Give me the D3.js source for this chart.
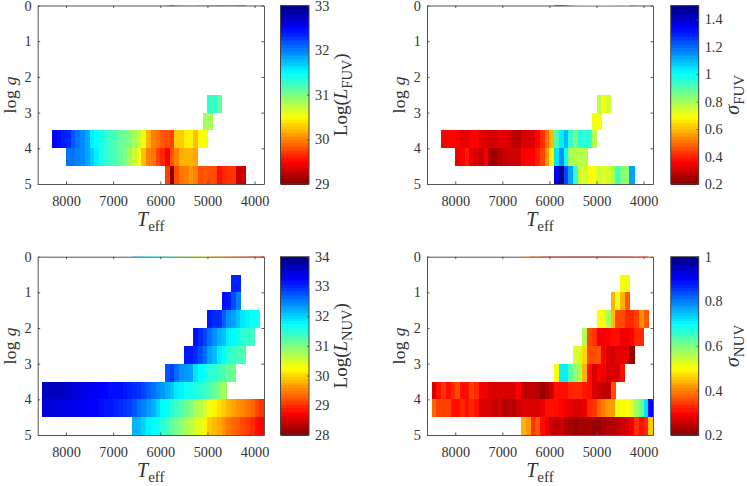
<!DOCTYPE html>
<html><head><meta charset="utf-8">
<script src="https://cdn.jsdelivr.net/npm/d3@7"></script>
<style>
html,body{margin:0;padding:0;background:#fff}
svg{display:block}
text{font-family:"Liberation Serif",serif;fill:#333}
.tick text{font-size:14.3px;fill:#333}
.domain,.tick line{stroke:#555}
</style></head><body><div id="chart"></div>
<script>
// cell width in K; every row lists values from its hot (left) start temperature
const tStep = 100;
const tDomain = [8600, 3800];
const xTickValues = [8000, 7000, 6000, 5000, 4000];
const yTickValues = [0, 1, 2, 3, 4, 5];

const fuvLogG = [2.5, 3, 3.5, 4, 4.5];
const fuvStart = [5000, 5100, 8300, 8000, 5900];
const lumFuv = [
 [31.3,31.3,31.1],
 [30.85,30.85],
 [32.5,32.45,32.4,32.35,32.15,32.05,31.95,31.85,31.55,31.5,31.4,31.35,31.25,31.2,31.1,31.05,31.0,30.85,30.7,30.55,30.2,30.0,29.95,29.85,29.8,29.75,30.3,30.3,30.45,30.45,30.25,30.5,30.55],
 [32.05,32.05,32.0,31.95,31.85,31.7,31.55,31.4,31.35,31.25,31.2,31.1,31.0,30.85,30.7,30.55,30.25,30.0,29.95,29.75,29.65,29.5,29.85,30.0,30.2,30.2,30.2,30.15],
 [29.75,29.05,29.8,29.95,30.0,30.1,30.0,29.8,29.85,29.8,29.8,29.55,29.65,29.7,29.7,29.3,29.3]
];
const sigFuv = [
 [.78,.7,.75],
 [.7,.7],
 [.36,.37,.37,.36,.33,.33,.36,.37,.33,.32,.31,.31,.33,.32,.31,.28,.27,.31,.31,.32,.37,.42,.5,.6,.92,1.03,1.1,.95,.85,.97,.96,.95,.78],
 [.34,.37,.4,.33,.31,.29,.35,.25,.24,.27,.29,.30,.30,.30,.36,.36,.36,.4,.45,.55,.68,1.05,1.15,1.0,.8,.78,.78,.78],
 [1.36,1.48,1.25,1.13,.95,.75,.74,.7,.7,.77,.72,.74,.8,.93,.85,.82,1.13]
];

const nuvLogG = [0.5, 1, 1.5, 2, 2.5, 3, 3.5, 4, 4.5];
const nuvStart = [4500, 4700, 5000, 5300, 5500, 5900, 8500, 8500, 6600];
const lumNuv = [
 [33.05,33.05],
 [33.15,33.1,32.8,32.5],
 [33.1,33.0,33.0,32.7,32.4,32.3,32.1,31.9,31.8,31.7,31.7],
 [33.2,33.0,32.85,32.6,32.4,32.2,32.1,31.85,31.75,31.65,31.5,31.45,31.4],
 [33.1,33.1,33.0,32.8,32.6,32.3,32.15,31.85,31.75,31.5,31.4,31.35,31.3],
 [32.75,32.9,32.6,32.4,32.35,32.3,31.9,31.75,31.7,31.5,31.5,31.35,31.3,31.15,31.1],
 [33.6,33.65,33.65,33.65,33.6,33.55,33.5,33.45,33.4,33.35,33.3,33.3,33.25,33.25,33.2,33.2,33.15,33.1,33.05,33.0,32.95,32.85,32.7,32.6,32.45,32.35,32.2,32.1,31.85,31.8,31.7,31.6,31.55,31.5,31.4,31.3,31.15,30.95,30.8],
 [33.45,33.45,33.45,33.42,33.42,33.4,33.38,33.35,33.32,33.3,33.25,33.22,33.15,33.12,33.1,33.05,33.0,32.95,32.9,32.75,32.6,32.5,32.35,32.2,32.0,31.75,31.65,31.55,31.4,31.25,31.1,30.95,30.8,30.65,30.5,30.3,30.2,30.05,29.95,29.8,29.7,29.6,29.55,29.45,29.35,29.15,29.05],
 [32.2,32.15,32.0,31.8,31.75,31.7,31.5,31.35,31.2,31.05,30.9,30.75,30.6,30.5,30.4,30.2,29.95,29.85,29.75,29.6,29.45,29.35,29.3,29.2,29.1,29.0,28.8,28.75]
];
const sigNuv = [
 [.51,.51],
 [.44,.52,.44,.37],
 [.5,.5,.57,.45,.36,.36,.33,.33,.35,.41,.37],
 [.56,.36,.34,.29,.29,.3,.31,.31,.29,.29,.3,.33,.33],
 [.53,.53,.47,.36,.36,.37,.3,.27,.26,.28,.28,.28,.22],
 [.5,.71,.71,.63,.58,.56,.44,.31,.27,.3,.29,.27,.27,.27,.31],
 [.27,.31,.34,.31,.33,.36,.31,.31,.35,.33,.29,.29,.27,.27,.27,.27,.27,.27,.3,.25,.25,.25,.24,.22,.24,.26,.31,.31,.31,.33,.33,.33,.32,.31,.27,.26,.25,.25,.36],
 [.38,.35,.35,.35,.31,.31,.33,.31,.33,.31,.27,.27,.27,.25,.27,.24,.25,.24,.26,.27,.27,.27,.27,.28,.31,.31,.31,.3,.29,.28,.27,.27,.28,.33,.34,.38,.4,.42,.42,.52,.5,.5,.52,.58,.62,.72,.9],
 [.44,.42,.34,.37,.31,.29,.26,.25,.26,.24,.23,.22,.23,.225,.23,.22,.22,.23,.24,.24,.25,.26,.27,.29,.34,.31,.33,.46]
];

const cbarFuvLum = [29, 33], cbarFuvSig = [0.2, 1.5], cbarNuvLum = [28, 34], cbarNuvSig = [0.2, 1];
const ticksFuvLum = [29,30,31,32,33];
const ticksFuvSig = [0.2,0.4,0.6,0.8,1,1.2,1.4];
const ticksNuvLum = [28,29,30,31,32,33,34];
const ticksNuvSig = [0.2,0.4,0.6,0.8,1];

const jetStops = [0, .125, .375, .625, .875, 1];
const jetColors = ["#800000","#ff0000","#ffff00","#00ffff","#0000ff","#000080"];
const jet = d3.scaleLinear().domain(jetStops).range(jetColors).clamp(true);

const panels = [
 {x0:37.7,x1:264,y0:5.5,y1:184,cx0:280.5,cx1:309,logG:fuvLogG,start:fuvStart,vals:lumFuv,range:cbarFuvLum,ticks:ticksFuvLum,label:["Log(","L","FUV",")"],lx:347},
 {x0:427,x1:653,y0:5.5,y1:184,cx0:670.7,cx1:698.7,logG:fuvLogG,start:fuvStart,vals:sigFuv,range:cbarFuvSig,ticks:ticksFuvSig,label:["","σ","FUV",""],lx:739},
 {x0:37.7,x1:264,y0:256.7,y1:435,cx0:280.5,cx1:309,logG:nuvLogG,start:nuvStart,vals:lumNuv,range:cbarNuvLum,ticks:ticksNuvLum,label:["Log(","L","NUV",")"],lx:347},
 {x0:427,x1:653,y0:256.7,y1:435,cx0:670.7,cx1:698.7,logG:nuvLogG,start:nuvStart,vals:sigNuv,range:cbarNuvSig,ticks:ticksNuvSig,label:["","σ","NUV",""],lx:739}
];

const svg = d3.select("#chart").append("svg").attr("width",747).attr("height",486)
  .style("background","#fff");
svg.append("defs").append("filter").attr("id","soft")
  .attr("filterUnits","userSpaceOnUse").attr("x",0).attr("y",0).attr("width",747).attr("height",486)
  .append("feGaussianBlur").attr("stdDeviation",0.55);

panels.forEach(p => {
  const g = svg.append("g");
  const x = d3.scaleLinear().domain(tDomain).range([p.x0,p.x1]);
  const y = d3.scaleLinear().domain([0,5]).range([p.y0,p.y1]);
  const t = d3.scaleLinear().domain(p.range).range([0,1]);
  const color = v => jet(t(v));
  const cellW = x(tDomain[0]-tStep)-x(tDomain[0]);

  // heat cells
  const cells = g.append("g").attr("filter","url(#soft)");
  p.vals.forEach((row,r) => {
    cells.append("g").attr("shape-rendering","crispEdges").selectAll("rect").data(row).join("rect")
      .attr("x",(d,i)=>x(p.start[r]-tStep*i))
      .attr("width",cellW+.5)
      .attr("y",y(p.logG[r]))
      .attr("height",y(p.logG[r]+.5)-y(p.logG[r]))
      .attr("fill",color);
  });

  // axes, ticks inward on all four sides
  const xAx = d3.axisBottom(x).tickValues(xTickValues).tickSizeInner(-2.5).tickSizeOuter(0).tickPadding(12).tickFormat(d3.format("d"));
  const yAx = d3.axisLeft(y).tickValues(yTickValues).tickSizeInner(-2.5).tickSizeOuter(0).tickPadding(6).tickFormat(d3.format("d"));
  g.append("g").attr("transform",`translate(0,${p.y1})`).call(xAx);
  g.append("g").attr("transform",`translate(${p.x0},0)`).call(yAx);
  g.append("g").attr("transform",`translate(0,${p.y0})`)
    .call(d3.axisTop(x).tickValues(xTickValues).tickSizeInner(-2.5).tickSizeOuter(0).tickFormat(""));
  g.append("g").attr("transform",`translate(${p.x1},0)`)
    .call(d3.axisRight(y).tickValues(yTickValues).tickSizeInner(-2.5).tickSizeOuter(0).tickFormat(""));

  // the coolest-gravity row repeats as a sliver on the top border
  const last = p.vals.length-1;
  g.append("g").attr("opacity",0.45).selectAll("rect").data(p.vals[last]).join("rect")
    .attr("x",(d,i)=>x(p.start[last]-tStep*i))
    .attr("width",cellW+.3)
    .attr("y",p.y0-.5).attr("height",1)
    .attr("fill",color);

  // axis titles
  const xT = g.append("text").attr("x",(p.x0+p.x1)/2).attr("y",p.y1+41.5).attr("text-anchor","middle");
  xT.append("tspan").attr("font-style","italic").attr("font-size",20).text("T");
  xT.append("tspan").attr("font-size",15).attr("dy",5).text("eff");
  const yT = g.append("text").attr("transform",`translate(${p.x0-22},${(p.y0+p.y1)/2}) rotate(-90)`)
    .attr("text-anchor","middle").attr("font-size",17.5).attr("letter-spacing",0.4);
  yT.append("tspan").text("log ");
  yT.append("tspan").attr("font-style","italic").text("g");

  // colorbar
  const cy = d3.scaleLinear().domain(p.range).range([p.y1,p.y0]);
  const levels = d3.range(64);
  g.append("g").attr("filter","url(#soft)").attr("shape-rendering","crispEdges")
    .selectAll("rect").data(levels).join("rect")
    .attr("x",p.cx0).attr("width",p.cx1-p.cx0)
    .attr("y",d=>p.y1-(d+1)*(p.y1-p.y0)/64)
    .attr("height",(p.y1-p.y0)/64+.6)
    .attr("fill",d=>jet((d+.5)/64));
  g.append("g").attr("transform",`translate(${p.cx1},0)`)
    .call(d3.axisRight(cy).tickValues(p.ticks).tickSizeInner(-2).tickSizeOuter(0).tickPadding(6).tickFormat(d3.format("~g")))
    .call(s=>s.select(".domain").remove());
  g.append("rect").attr("x",p.cx0).attr("y",p.y0).attr("width",p.cx1-p.cx0).attr("height",p.y1-p.y0)
    .attr("fill","none").attr("stroke","#444");

  const cT = g.append("text").attr("transform",`translate(${p.lx},${(p.y0+p.y1)/2}) rotate(-90)`)
    .attr("text-anchor","middle").attr("font-size",19);
  if(p.label[0]) cT.append("tspan").text(p.label[0]);
  cT.append("tspan").attr("font-style","italic").attr("font-size",p.label[0]?19:20).text(p.label[1]);
  cT.append("tspan").attr("font-size",p.label[0]?14.5:15).attr("dy",5).text(p.label[2]);
  if(p.label[3]) cT.append("tspan").attr("dy",-5).text(p.label[3]);
});
</script></body></html>
